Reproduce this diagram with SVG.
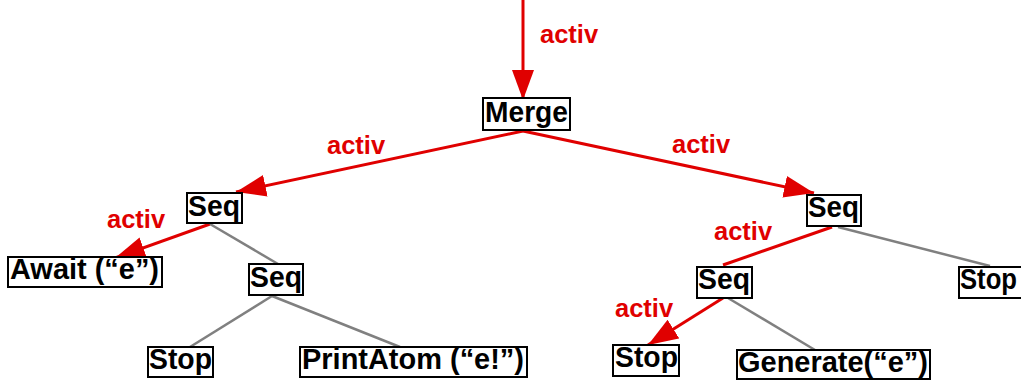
<svg xmlns="http://www.w3.org/2000/svg" width="1021" height="380" viewBox="0 0 1021 380">
  <style>
    .box { fill: #ffffff; stroke: #000000; stroke-width: 2; }
    .name { font-family: "Liberation Sans", Arial, sans-serif; font-weight: bold; font-size: 29.5px; fill: #000000; }
    .lbl { font-family: "Liberation Sans", Arial, sans-serif; font-weight: bold; font-size: 25.5px; fill: #e00000; }
    .act { stroke: #e00000; stroke-width: 3; fill: none; }
    .pas { stroke: #808080; stroke-width: 2.5; fill: none; }
  </style>
  <defs>
    <marker id="head" markerUnits="userSpaceOnUse" markerWidth="32" markerHeight="24" refX="30" refY="11" orient="auto">
      <path d="M0,0 L30,11 L0,22 z" fill="#e00000"/>
    </marker>
  </defs>

  <!-- connectors -->
  <g id="connectors">
    <line class="act" x1="523" y1="0" x2="523" y2="100" marker-end="url(#head)"/>
    <line class="act" x1="523" y1="131" x2="236" y2="192" marker-end="url(#head)"/>
    <line class="act" x1="523" y1="131" x2="814" y2="193" marker-end="url(#head)"/>
    <line class="act" x1="210" y1="224" x2="115" y2="258" marker-end="url(#head)"/>
    <line class="pas" x1="210" y1="224" x2="278" y2="264"/>
    <line class="pas" x1="272" y1="296" x2="190" y2="347"/>
    <line class="pas" x1="272" y1="296" x2="400" y2="347"/>
    <line class="act" x1="832" y1="227" x2="723" y2="265"/>
    <line class="pas" x1="838" y1="227" x2="990" y2="266"/>
    <line class="act" x1="723" y1="298" x2="648" y2="345" marker-end="url(#head)"/>
    <line class="pas" x1="728" y1="298" x2="815" y2="350"/>

    <text class="lbl" x="540" y="43">activ</text>
    <text class="lbl" x="327" y="154">activ</text>
    <text class="lbl" x="672" y="153">activ</text>
    <text class="lbl" x="107" y="228">activ</text>
    <text class="lbl" x="714" y="240">activ</text>
    <text class="lbl" x="615" y="317">activ</text>
  </g>

  <!-- nodes -->
  <g id="merge">
    <rect class="box" x="483" y="98" width="87" height="32"/>
    <text class="name" x="485" y="122" textLength="83" lengthAdjust="spacingAndGlyphs">Merge</text>
  </g>
  <g id="seq-left">
    <rect class="box" x="187" y="193" width="55" height="30"/>
    <text class="name" x="188" y="216" textLength="52" lengthAdjust="spacingAndGlyphs">Seq</text>
  </g>
  <g id="await">
    <rect class="box" x="8" y="257" width="154" height="30"/>
    <text class="name" x="10" y="279" textLength="149" lengthAdjust="spacingAndGlyphs">Await (“e”)</text>
  </g>
  <g id="seq-inner-left">
    <rect class="box" x="249" y="264" width="54" height="31"/>
    <text class="name" x="250" y="287" textLength="52" lengthAdjust="spacingAndGlyphs">Seq</text>
  </g>
  <g id="stop-left">
    <rect class="box" x="148" y="347" width="65" height="30"/>
    <text class="name" x="149" y="369" textLength="63" lengthAdjust="spacingAndGlyphs">Stop</text>
  </g>
  <g id="printatom">
    <rect class="box" x="300" y="347" width="227" height="30"/>
    <text class="name" x="302" y="369" textLength="222" lengthAdjust="spacingAndGlyphs">PrintAtom (“e!”)</text>
  </g>
  <g id="seq-right">
    <rect class="box" x="807" y="195" width="54" height="31"/>
    <text class="name" x="808" y="217" textLength="51" lengthAdjust="spacingAndGlyphs">Seq</text>
  </g>
  <g id="seq-inner-right">
    <rect class="box" x="697" y="267" width="55" height="31"/>
    <text class="name" x="698" y="289" textLength="52" lengthAdjust="spacingAndGlyphs">Seq</text>
  </g>
  <g id="stop-right">
    <rect class="box" x="959" y="267" width="64" height="31"/>
    <text class="name" x="960" y="289" textLength="57" lengthAdjust="spacingAndGlyphs">Stop</text>
  </g>
  <g id="stop-bottom">
    <rect class="box" x="613" y="345" width="66" height="31"/>
    <text class="name" x="615" y="367" textLength="63" lengthAdjust="spacingAndGlyphs">Stop</text>
  </g>
  <g id="generate">
    <rect class="box" x="737" y="350" width="193" height="29"/>
    <text class="name" x="738" y="372" textLength="190" lengthAdjust="spacingAndGlyphs">Generate(“e”)</text>
  </g>
</svg>
